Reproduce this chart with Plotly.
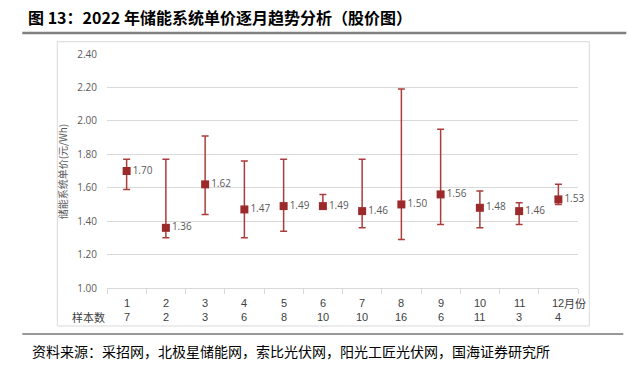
import plotly.graph_objects as go

months = [1, 2, 3, 4, 5, 6, 7, 8, 9, 10, 11, 12]
month_labels = ["1", "2", "3", "4", "5", "6", "7", "8", "9", "10", "11", "12"]
sample_counts = ["7", "2", "3", "6", "8", "10", "10", "16", "6", "11", "3", "4"]
mean_price = [1.70, 1.36, 1.62, 1.47, 1.49, 1.49, 1.46, 1.50, 1.56, 1.48, 1.46, 1.53]
high_price = [1.77, 1.77, 1.91, 1.76, 1.77, 1.56, 1.77, 2.19, 1.95, 1.58, 1.51, 1.62]
low_price = [1.59, 1.30, 1.44, 1.30, 1.34, 1.48, 1.36, 1.29, 1.38, 1.36, 1.38, 1.50]
y_ticks = [1.0, 1.2, 1.4, 1.6, 1.8, 2.0, 2.2, 2.4]

title = "图 13：2022 年储能系统单价逐月趋势分析（股价图）"
source = "资料来源：采招网，北极星储能网，索比光伏网，阳光工匠光伏网，国海证券研究所"
y_title = "储能系统单价(元/Wh)"

err_plus = [h - m for h, m in zip(high_price, mean_price)]
err_minus = [m - l for m, l in zip(mean_price, low_price)]

fig = go.Figure()
fig.add_trace(go.Scatter(
    x=months, y=mean_price, mode="markers+text",
    marker=dict(symbol="square", size=8, color="#9c2a2b"),
    error_y=dict(type="data", symmetric=False, array=err_plus, arrayminus=err_minus,
                 color="#ac3d3d", thickness=1.5, width=3.5),
    text=[f"{v:.2f}" for v in mean_price], textposition="middle right",
    textfont=dict(size=10, color="#595959", family="Open Sans, Liberation Sans, sans-serif"),
    cliponaxis=False, showlegend=False,
))

L, R, T, B = 106.7, 52.3, 54, 88
W, H = 630, 376
pw = W - L - R
ph = H - T - B

def px_x(px):
    return (px - L) / pw

def px_y(py):
    return (H - B - py) / ph

shapes = [
    dict(type="line", xref="paper", yref="paper", x0=px_x(22), x1=px_x(626), y0=px_y(33), y1=px_y(33),
         line=dict(color="#808080", width=2.5)),
    dict(type="rect", xref="paper", yref="paper", x0=px_x(57), x1=px_x(589), y0=px_y(326), y1=px_y(41.7),
         line=dict(color="#d9d9d9", width=1)),
    dict(type="line", xref="paper", yref="paper", x0=px_x(22), x1=px_x(623), y0=px_y(334), y1=px_y(334),
         line=dict(color="#333333", width=1.2)),
]

annotations = [
    dict(text=f"<b>{title}</b>", xref="paper", yref="paper", x=px_x(26), y=px_y(17), xanchor="left",
         yanchor="middle", showarrow=False,
         font=dict(size=16, color="#000000", family="Noto Sans CJK SC, sans-serif")),
    dict(text=source, xref="paper", yref="paper", x=px_x(30), y=px_y(351), xanchor="left",
         yanchor="middle", showarrow=False,
         font=dict(size=14, color="#000000", family="Noto Sans CJK SC, sans-serif")),
    dict(text=y_title, xref="paper", yref="paper", x=px_x(62), y=px_y(171), textangle=-90,
         xanchor="center", yanchor="middle", showarrow=False,
         font=dict(size=10, color="#595959", family="Noto Sans CJK SC, sans-serif")),
    dict(text="样本数", xref="paper", yref="paper", x=px_x(88), y=px_y(317), xanchor="center",
         yanchor="middle", showarrow=False,
         font=dict(size=11, color="#404040", family="Noto Sans CJK SC, sans-serif")),
    dict(text="月份", xref="paper", yref="paper", x=px_x(562), y=px_y(302.5), xanchor="left",
         yanchor="middle", showarrow=False,
         font=dict(size=11, color="#404040", family="Noto Sans CJK SC, sans-serif")),
]
for m, ml, sc in zip(months, month_labels, sample_counts):
    annotations.append(dict(text=ml, x=m, xref="x", yref="paper", y=px_y(302.5), showarrow=False,
                            xanchor="center", yanchor="middle",
                            font=dict(size=11, color="#404040", family="Liberation Sans, sans-serif")))
    annotations.append(dict(text=sc, x=m, xref="x", yref="paper", y=px_y(317), showarrow=False,
                            xanchor="center", yanchor="middle",
                            font=dict(size=11, color="#404040", family="Liberation Sans, sans-serif")))

fig.update_layout(
    width=W, height=H,
    margin=dict(l=L, r=R, t=T, b=B, pad=0),
    paper_bgcolor="white", plot_bgcolor="white",
    shapes=shapes, annotations=annotations,
    xaxis=dict(range=[0.5, 12.5], showticklabels=False, showgrid=False, zeroline=False,
               showline=True, linecolor="#d9d9d9", linewidth=1,
               ticks="outside", tickvals=[i + 0.5 for i in range(0, 13)], ticklen=5,
               tickcolor="#d9d9d9"),
    yaxis=dict(range=[1.0, 2.4], tickvals=y_ticks, ticktext=[f"{v:.2f}" for v in y_ticks],
               showgrid=True, gridcolor="#d9d9d9", gridwidth=1, zeroline=False,
               tickfont=dict(size=10, color="#595959", family="Open Sans, Liberation Sans, sans-serif"),
               ticks="", ticklabelstandoff=9),
)

fig.write_html("out.html", config={"displayModeBar": False},
               post_script="document.body.style.margin='0';document.body.style.overflow='hidden';")
